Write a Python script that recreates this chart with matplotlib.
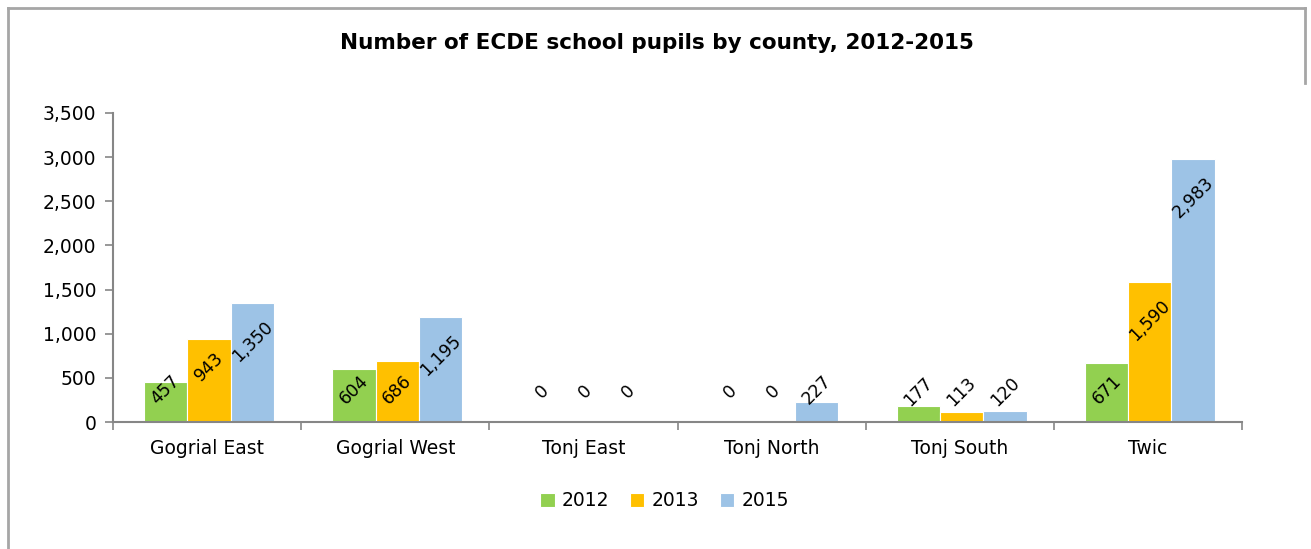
import matplotlib.pyplot as plt
import numpy as np
from matplotlib.lines import Line2D

counties = ["Gogrial East", "Gogrial West", "Tonj East", "Tonj North", "Tonj South", "Twic"]
years = ["2012", "2013", "2015"]
pupils_2012 = [457, 604, 0, 0, 177, 671]
pupils_2013 = [943, 686, 0, 0, 113, 1590]
pupils_2015 = [1350, 1195, 0, 227, 120, 2983]

colors = ["#92D050", "#FFC000", "#9DC3E6"]
axis_grey = "#868686"
frame_grey = "#A6A6A6"

plt.rcParams["font.family"] = ["DejaVu Sans"]

fig = plt.figure(figsize=(13.11, 5.49), dpi=100)
ax = fig.add_axes([0.0862, 0.2313, 0.8612, 0.5629])

series = [pupils_2012, pupils_2013, pupils_2015]
x = np.arange(len(counties))
width = 0.23

ax.set_xlim(-0.5, len(counties) - 0.5)
ax.set_ylim(0, 3500)

bars = []
for i, (vals, col, yr) in enumerate(zip(series, colors, years)):
    b = ax.bar(x + (i - 1) * width + 0.01, vals, width, color=col, edgecolor="white",
               linewidth=0.8, label=yr, zorder=2)
    bars.append(b)

# data labels: rotated, inside the bar end for tall bars, above short ones
px0 = ax.transData.transform((0, 0))[1]
for b, vals in zip(bars, series):
    for rect, v in zip(b, vals):
        label = f"{v:,}"
        h_px = ax.transData.transform((0, v))[1] - px0
        if v >= 400:
            off = 39 if len(label) > 3 else 28
            centre = max(h_px - off, 32)
        else:
            centre = max(30, h_px + 12)
        ax.annotate(label, xy=(rect.get_x() + rect.get_width() / 2, 0),
                    xytext=(0, centre), textcoords="offset pixels",
                    ha="center", va="center", rotation=45,
                    fontsize=12.5, color="black", zorder=3)

ax.set_yticks(np.arange(0, 3501, 500))
ax.set_yticklabels([f"{v:,}" for v in range(0, 3501, 500)])
ax.set_xticks(x)
ax.set_xticklabels(counties)
ax.set_xticks(np.arange(-0.5, len(counties)), minor=True)
ax.tick_params(axis="x", which="major", length=0, pad=12, labelsize=13.5)
ax.tick_params(axis="x", which="minor", length=6, color=axis_grey, width=1.2)
ax.tick_params(axis="y", length=6, color=axis_grey, width=1.2, labelsize=13.5, pad=6)

for side in ["top", "right"]:
    ax.spines[side].set_visible(False)
for side in ["left", "bottom"]:
    ax.spines[side].set_color(axis_grey)
    ax.spines[side].set_linewidth(1.5)

fig.text(0.501, 1 - 43 / 549, "Number of ECDE school pupils by county, 2012-2015",
         fontsize=15.5, fontweight="bold", ha="center", va="center")

leg = fig.legend(loc="center", bbox_to_anchor=(0.507, 0.088), ncol=3, frameon=False,
                 fontsize=13.5, handlelength=0.75, handleheight=0.75,
                 handletextpad=0.4, columnspacing=1.1)

# outer chart frame
fig.add_artist(Line2D([8 / 1311, 8 / 1311], [0, 1 - 8 / 549], transform=fig.transFigure,
                      color=frame_grey, lw=2))
fig.add_artist(Line2D([8 / 1311, 1305 / 1311], [1 - 8 / 549, 1 - 8 / 549],
                      transform=fig.transFigure, color=frame_grey, lw=2))
fig.add_artist(Line2D([1305 / 1311, 1305 / 1311], [1 - 8 / 549, 1 - 83 / 549],
                      transform=fig.transFigure, color=frame_grey, lw=2))

fig.savefig("out.png", dpi=100)
